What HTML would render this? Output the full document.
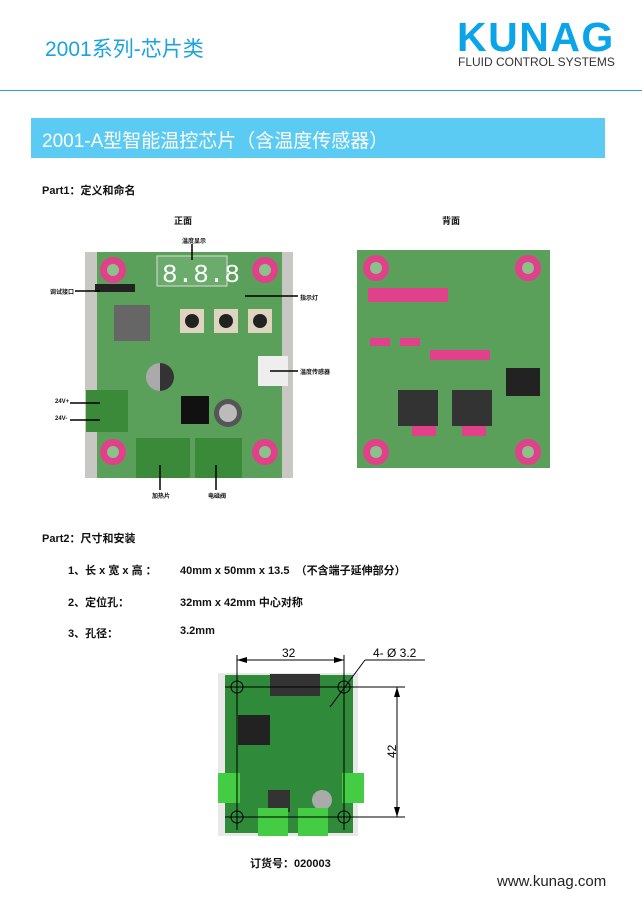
<!DOCTYPE html>
<html><head><meta charset="utf-8"><style>
body{margin:0;width:642px;height:907px;background:#fff;position:relative;overflow:hidden;font-family:"Liberation Sans","Noto Sans CJK SC",sans-serif}
.a{position:absolute;white-space:nowrap}
.b{font-weight:bold;font-size:11px;color:#111}
</style></head><body>
<div class="a" style="left:45px;top:33px;font-size:21px;color:#1aa3e0">2001系列-芯片类</div>
<div class="a" style="left:457px;top:14px;font-size:41px;font-weight:bold;color:#0aa5e8;letter-spacing:1.5px">KUNAG</div>
<div class="a" style="left:458px;top:55px;font-size:12px;color:#333">FLUID CONTROL SYSTEMS</div>
<div class="a" style="left:0;top:90px;width:642px;height:1px;background:#2aa0d6"></div>
<div class="a" style="left:31px;top:118px;width:574px;height:40px;background:#5bcbf4"></div>
<div class="a" style="left:42px;top:126px;font-size:19px;color:#fff">2001-A型智能温控芯片（含温度传感器）</div>
<div class="a b" style="left:42px;top:182px">Part1：定义和命名</div>
<div class="a b" style="left:174px;top:214px;font-size:9px">正面</div>
<div class="a b" style="left:442px;top:214px;font-size:9px">背面</div>

<svg class="a" style="left:0;top:230px" width="642" height="280">
<rect x="85" y="22" width="208" height="226" fill="#c9c7c4"/>
<rect x="97" y="22" width="185" height="226" fill="#5aa05a"/>
<g fill="#e0418a"><circle cx="113" cy="40" r="13"/><circle cx="265" cy="40" r="13"/><circle cx="113" cy="222" r="13"/><circle cx="265" cy="222" r="13"/></g>
<g fill="#8cc08c"><circle cx="113" cy="40" r="6"/><circle cx="265" cy="40" r="6"/><circle cx="113" cy="222" r="6"/><circle cx="265" cy="222" r="6"/></g>
<rect x="157" y="26" width="70" height="30" fill="#6bab6b" stroke="#ddd"/>
<text x="162" y="52" font-size="26" fill="#fff" font-family="Liberation Mono">8.8.8</text>
<rect x="95" y="54" width="40" height="8" fill="#222"/>
<rect x="114" y="75" width="36" height="36" fill="#666"/>
<rect x="180" y="79" width="24" height="24" fill="#ddd5c0"/><circle cx="192" cy="91" r="7" fill="#222"/>
<rect x="214" y="79" width="24" height="24" fill="#ddd5c0"/><circle cx="226" cy="91" r="7" fill="#222"/>
<rect x="248" y="79" width="24" height="24" fill="#ddd5c0"/><circle cx="260" cy="91" r="7" fill="#222"/>
<circle cx="160" cy="147" r="14" fill="#aaa"/><path d="M160 133a14 14 0 0 1 0 28z" fill="#333"/>
<rect x="258" y="126" width="30" height="30" fill="#eee"/>
<rect x="181" y="166" width="28" height="28" fill="#111"/>
<circle cx="228" cy="183" r="14" fill="#555"/><circle cx="228" cy="183" r="9" fill="#bbb"/>
<rect x="86" y="160" width="42" height="42" fill="#3a8a3a"/>
<rect x="136" y="208" width="54" height="40" fill="#3a8a3a"/>
<rect x="195" y="208" width="47" height="40" fill="#3a8a3a"/>
<rect x="357" y="20" width="193" height="218" fill="#5aa05a"/>
<g fill="#e0418a"><circle cx="376" cy="38" r="13"/><circle cx="528" cy="38" r="13"/><circle cx="376" cy="222" r="13"/><circle cx="528" cy="222" r="13"/></g>
<g fill="#8cc08c"><circle cx="376" cy="38" r="6"/><circle cx="528" cy="38" r="6"/><circle cx="376" cy="222" r="6"/><circle cx="528" cy="222" r="6"/></g>
<g fill="#e0418a"><rect x="368" y="58" width="80" height="14"/><rect x="370" y="108" width="20" height="8"/><rect x="400" y="108" width="20" height="8"/><rect x="430" y="120" width="60" height="10"/><rect x="412" y="196" width="24" height="10"/><rect x="462" y="196" width="24" height="10"/></g>
<rect x="398" y="160" width="40" height="36" fill="#333"/><rect x="452" y="160" width="40" height="36" fill="#333"/>
<rect x="506" y="138" width="34" height="28" fill="#222"/>
<g stroke="#000" stroke-width="1.5"><line x1="75" y1="61" x2="100" y2="61"/><line x1="192" y1="14" x2="192" y2="30"/><line x1="245" y1="66" x2="298" y2="66"/><line x1="270" y1="141" x2="298" y2="141"/><line x1="70" y1="173" x2="100" y2="173"/><line x1="70" y1="190" x2="100" y2="190"/><line x1="160" y1="235" x2="160" y2="260"/><line x1="216" y1="235" x2="216" y2="260"/></g>
</svg>
<div class="a b" style="left:182px;top:236px;font-size:6px">温度显示</div>
<div class="a b" style="left:50px;top:287px;font-size:6px">调试接口</div>
<div class="a b" style="left:300px;top:293px;font-size:6px">指示灯</div>
<div class="a b" style="left:300px;top:367px;font-size:6px">温度传感器</div>
<div class="a b" style="left:55px;top:399px;font-size:6px">24V+</div>
<div class="a b" style="left:55px;top:416px;font-size:6px">24V-</div>
<div class="a b" style="left:152px;top:491px;font-size:6px">加热片</div>
<div class="a b" style="left:208px;top:491px;font-size:6px">电磁阀</div>

<div class="a b" style="left:42px;top:530px">Part2：尺寸和安装</div>
<div class="a b" style="left:68px;top:562px">1、长 x 宽 x 高 ：</div>
<div class="a b" style="left:180px;top:562px">40mm x 50mm x 13.5 &nbsp;（不含端子延伸部分）</div>
<div class="a b" style="left:68px;top:594px">2、定位孔：</div>
<div class="a b" style="left:180px;top:594px">32mm x 42mm 中心对称</div>
<div class="a b" style="left:68px;top:625px">3、孔径：</div>
<div class="a b" style="left:180px;top:625px">3.2mm</div>

<svg class="a" style="left:200px;top:640px" width="240" height="210">
<rect x="18" y="33" width="140" height="163" fill="#e8e8e8"/>
<rect x="25" y="35" width="128" height="158" fill="#2f8a3a"/>
<rect x="70" y="34" width="50" height="22" fill="#333"/>
<rect x="38" y="75" width="32" height="30" fill="#222"/>
<rect x="68" y="150" width="22" height="22" fill="#333"/>
<circle cx="122" cy="160" r="10" fill="#aaa"/>
<rect x="18" y="133" width="22" height="30" fill="#4c4"/><rect x="142" y="133" width="22" height="30" fill="#4c4"/>
<rect x="58" y="168" width="30" height="28" fill="#4c4"/><rect x="98" y="168" width="30" height="28" fill="#4c4"/>
<g fill="none" stroke="#000" stroke-width="1"><circle cx="37" cy="47" r="6"/><circle cx="144" cy="47" r="6"/><circle cx="37" cy="177" r="6"/><circle cx="144" cy="177" r="6"/>
<line x1="37" y1="15" x2="37" y2="190"/><line x1="144" y1="15" x2="144" y2="190"/><line x1="25" y1="47" x2="205" y2="47"/><line x1="25" y1="177" x2="205" y2="177"/>
<line x1="37" y1="20" x2="144" y2="20"/><line x1="197" y1="47" x2="197" y2="177"/><line x1="130" y1="67" x2="165" y2="20"/><line x1="165" y1="20" x2="225" y2="20"/></g>
<g fill="#000"><path d="M37 20l10-3v6z"/><path d="M144 20l-10-3v6z"/><path d="M197 47l-3 10h6z"/><path d="M197 177l-3-10h6z"/></g>
<text x="82" y="17" font-size="12">32</text>
<text x="173" y="17" font-size="12">4- Ø 3.2</text>
<text x="0" y="0" font-size="12" transform="translate(196 118) rotate(-90)">42</text>
</svg>
<div class="a b" style="left:250px;top:855px">订货号：020003</div>
<div class="a" style="left:497px;top:873px;font-size:15px;color:#222">www.kunag.com</div>
</body></html>
